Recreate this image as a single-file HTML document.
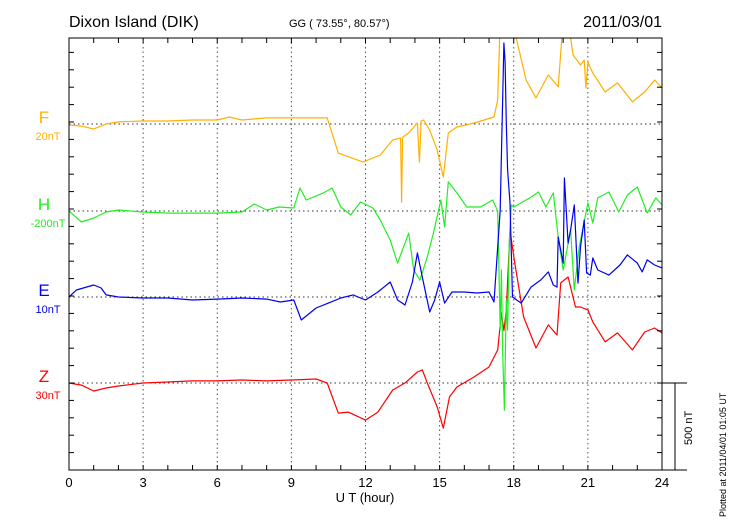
<!DOCTYPE html>
<html><head><meta charset="utf-8"><style>
body{margin:0;background:#fff;}
svg{display:block;font-family:"Liberation Sans",sans-serif;}
</style></head><body>
<svg id="c" width="730" height="520">
<defs><clipPath id="clip"><rect x="69" y="38" width="593" height="432"/></clipPath></defs>
<text x="69" y="27" font-size="16">Dixon Island (DIK)</text>
<text x="289" y="27" font-size="11">GG ( 73.55°,  80.57°)</text>
<text x="662" y="27" font-size="16" text-anchor="end">2011/03/01</text>
<text x="365" y="502" font-size="13" text-anchor="middle">U T (hour)</text>
<text transform="translate(726,517) rotate(-90)" font-size="9">Plotted at 2011/04/01 01:05 UT</text>
<text transform="translate(692,445) rotate(-90)" font-size="11">500 nT</text>
<g id="grid"></g><g id="series" clip-path="url(#clip)"></g><g id="axes"></g>
</svg>
<script>
const F_hours=[0,0.5,1,1.5,2,3,4,5,6,6.5,7,8,10.45,10.9,11.9,12.6,13.1,13.42,13.46,13.5,13.75,14.1,14.18,14.25,14.35,14.6,14.9,15.15,15.35,15.7,16.4,17.2,17.35,17.45,17.6,17.9,18.1,18.5,18.9,19.4,19.8,20,20.2,20.4,20.7,20.85,20.92,21,21.2,21.7,22.2,22.8,23.3,23.7,24];
const F_vals=[-6,-12,-29,0,12,17,17,23,23,40,23,35,35,-167,-219,-178,-92,-80,-449,-75,-52,6,-219,17,23,-35,-150,-305,-52,-17,6,40,138,600,770,655,495,253,150,282,213,600,600,397,339,368,207,356,293,184,236,127,184,253,207];
const H_hours=[0,0.5,1,1.5,2,3,4,5,6,7,7.5,8,8.5,9.1,9.35,9.6,10.3,10.65,11,11.4,11.8,12.3,12.6,13,13.3,13.75,13.95,14.2,14.5,14.75,15.05,15.2,15.35,15.7,16.1,16.65,17.15,17.35,17.45,17.5,17.55,17.62,17.7,17.75,17.82,17.9,18,18.7,19,19.3,19.6,19.8,20,20.3,20.45,20.65,21,21.2,21.4,21.85,22.25,22.6,23,23.4,23.75,24];
const H_vals=[0,-63,-40,-6,6,-6,-12,-12,-12,-6,40,6,23,17,132,63,104,132,23,-23,52,17,-52,-167,-299,-127,-339,-397,-264,-127,63,-92,167,104,23,23,63,0,-684,-339,-799,-1144,-512,-684,-167,35,23,80,109,23,104,-150,-339,-109,-454,-207,46,-69,75,109,-6,92,138,-12,75,35];
const E_hours=[0,0.3,1,1.3,1.5,2,3,4,5,6,7,8,8.55,9.1,9.4,10,10.5,11,11.5,12,12.5,13,13.3,13.6,13.9,14.1,14.3,14.6,14.8,15,15.2,15.5,16,16.5,17,17.2,17.45,17.6,17.65,17.7,17.75,17.85,17.95,18.3,18.7,19.1,19.4,19.6,19.75,19.8,20,20.05,20.2,20.3,20.45,20.6,20.7,20.85,20.95,21.1,21.2,21.4,21.85,22.3,22.6,23,23.2,23.4,23.7,24];
const E_vals=[0,40,69,52,12,0,-6,-6,-17,-12,-6,-12,-29,-17,-132,-63,-35,-6,12,-17,29,86,-17,-46,86,253,115,-86,-17,86,-35,29,29,23,29,-29,500,1460,1350,1000,730,540,0,-35,57,98,144,69,57,345,195,684,310,385,529,80,287,442,138,126,224,155,126,184,242,195,144,213,184,167];
const Z_hours=[0,0.5,1,1.5,2,3,4,5,6,7,8,9,10,10.45,10.9,11.3,12,12.5,13.1,13.6,14.1,14.3,14.5,14.9,15.15,15.4,15.7,16.4,17,17.35,17.5,17.6,17.7,17.85,18,18.4,18.9,19.4,19.75,19.9,20.2,20.5,20.7,21,21.2,21.7,22.2,22.8,23.3,23.7,24];
const Z_vals=[0,-12,-46,-29,-17,0,6,12,12,17,12,17,23,0,-173,-167,-213,-167,-40,0,63,75,0,-138,-259,-80,-23,35,92,190,403,300,420,880,725,380,201,334,276,575,609,437,437,420,351,236,288,190,293,316,288];
const xTicks=["0","3","6","9","12","15","18","21","24"];
const compNames=["F","H","E","Z"];
const compScales=["20nT","-200nT","10nT","30nT"];
const compColors=["#ffb000","#22ee22","#0000ee","#ff0000"];
const baselines=[124,211,297,383];
const L=69,R=662,T=38,B=470;
const xs=h=>L+h*(R-L)/24;
const ys=(base,v)=>base-v*87/500;
const NS="http://www.w3.org/2000/svg";
function mk(t,a,p){const e=document.createElementNS(NS,t);for(const k in a)e.setAttribute(k,a[k]);p.appendChild(e);return e;}
const grid=document.getElementById('grid'),ax=document.getElementById('axes'),ser=document.getElementById('series');
for(let i=1;i<8;i++){const l=mk('line',{x1:xs(i*3),x2:xs(i*3),y1:T,y2:B,stroke:'#555','stroke-dasharray':'1.5,3','stroke-width':1},grid);

}
baselines.forEach(b=>{const l=mk('line',{x1:L,x2:R,y1:b,y2:b,stroke:'#333','stroke-dasharray':'1.5,3','stroke-width':1},grid);

});
const fr=mk('rect',{x:L,y:T,width:R-L,height:B-T,fill:'none',stroke:'#000','stroke-width':1},ax);


for(let h=1;h<24;h++){mk('line',{x1:xs(h),x2:xs(h),y1:T,y2:T+5,stroke:'#000'},ax);mk('line',{x1:xs(h),x2:xs(h),y1:B,y2:B-5,stroke:'#000'},ax);}
for(let y=B;y>T;y-=87/5){mk('line',{x1:L,x2:L+5,y1:y,y2:y,stroke:'#000'},ax);mk('line',{x1:R,x2:R-5,y1:y,y2:y,stroke:'#000'},ax);}
xTicks.forEach(t=>{const e=mk('text',{x:xs(+t),y:487,'font-size':13,'text-anchor':'middle'},ax);e.textContent=t;

});
const sb=mk('path',{d:`M${R} 383 H687 M675 383 V470 M${R} 470 H687`,stroke:'#000',fill:'none'},ax);


const H=[F_hours,H_hours,E_hours,Z_hours],V=[F_vals,H_vals,E_vals,Z_vals];
const order=[0,3,1,2];
order.forEach(i=>{const d=H[i].map((h,j)=>(j?'L':'M')+xs(h).toFixed(1)+' '+ys(baselines[i],V[i][j]).toFixed(1)).join(' ');
const p=mk('path',{d:d,stroke:compColors[i],fill:'none','stroke-width':1.2,'stroke-linejoin':'round'},ser);

});
compNames.forEach((n,i)=>{const a=mk('text',{x:44,y:baselines[i]-1,'font-size':17,'text-anchor':'middle',fill:compColors[i]},ax);a.textContent=n;


const b=mk('text',{x:48,y:baselines[i]+16,'font-size':11,'text-anchor':'middle',fill:compColors[i]},ax);b.textContent=compScales[i];

});
</script>
</body></html>
